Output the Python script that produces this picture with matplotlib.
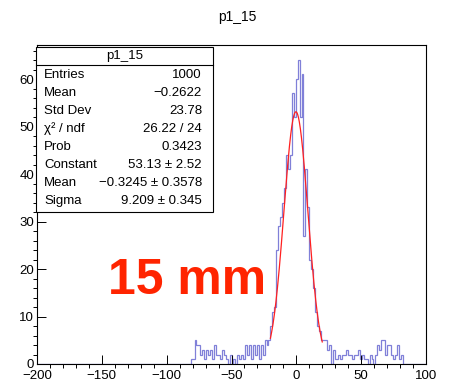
import numpy as np
import matplotlib
matplotlib.use("Agg")
import matplotlib.pyplot as plt
from matplotlib.patches import Rectangle
from matplotlib.lines import Line2D

plt.rcParams['font.family'] = ['Liberation Sans', 'DejaVu Sans']

# ---- data -------------------------------------------------------------
bin_width = 1.5
x_low, x_high = -200.0, 100.0
# counts from the first non-empty bin (left edge -81.5) onward
left_bg = [1, 1, 5, 4, 4, 2, 3, 1, 3, 2, 3, 1, 4, 2, 2, 1, 3, 2, 1, 0,
           2, 0, 1, 0, 2, 1, 2, 1, 4, 2, 4, 1, 4, 2, 4, 1, 4, 2, 5]
peak = [4, 5, 8, 11, 12, 24, 29, 31, 34, 37, 44, 41, 44, 57, 52, 60, 64,
        52, 61, 27, 41, 33, 22, 20, 16, 11, 8, 7, 5]
right_bg = [5, 5, 3, 4, 0, 3, 1, 1, 2, 1, 2, 2, 3, 2, 2, 1, 2, 2, 3, 1,
            2, 1, 1, 0, 2, 1, 0, 2, 4, 3, 5, 5, 2, 4, 4, 2, 1, 2, 4, 1, 2]
first_edge = -81.5

fit_const, fit_mean, fit_sigma = 53.13, -0.3245, 9.209
fit_range = (-20.0, 20.0)

title = "p1_15"
stat_labels = ["Entries", "Mean", "Std Dev", "\u03c7\u00b2 / ndf", "Prob",
               "Constant", "Mean", "Sigma"]
stat_values = ["1000", "\u22120.2622", "23.78", "26.22 / 24", "0.3423",
               "53.13 \u00b1 2.52", "\u22120.3245 \u00b1 0.3578",
               "9.209 \u00b1 0.345"]
x_ticks = [-200, -150, -100, -50, 0, 50, 100]
y_ticks = [0, 10, 20, 30, 40, 50, 60]

# ---- build histogram ---------------------------------------------------
nbins = int(round((x_high - x_low) / bin_width))
edges = x_low + bin_width * np.arange(nbins + 1)
counts = np.zeros(nbins)
start = int(round((first_edge - x_low) / bin_width))
data = left_bg + peak + right_bg
counts[start:start + len(data)] = data

# ---- figure ------------------------------------------------------------
fig = plt.figure(figsize=(4.5, 3.81), dpi=100)
ax = fig.add_axes([37/450, 1 - 364/381, 389/450, (364 - 45)/381])

ax.stairs(counts, edges, color='#8080d8', linewidth=0.9)
xf = np.linspace(fit_range[0], fit_range[1], 200)
ax.plot(xf, fit_const * np.exp(-0.5 * ((xf - fit_mean) / fit_sigma) ** 2),
        color='#ff2020', linewidth=0.9)

ax.set_xlim(x_low, x_high)
ax.set_ylim(0, counts.max() * 1.05)
ax.set_xticks(x_ticks)
ax.set_yticks(y_ticks)
ax.set_xticks(np.arange(-200, 101, 10), minor=True)
ax.set_yticks(np.arange(0, 67, 2), minor=True)
ax.tick_params(direction='in', labelsize=9.5, color='black')
ax.tick_params(which='major', length=6.5, width=0.7)
ax.tick_params(which='minor', length=3.2, width=0.7)
ax.tick_params(axis='x', pad=4.5)
ax.tick_params(axis='y', pad=2)
for s in ax.spines.values():
    s.set_linewidth(0.8)

fig.text(237/450, 1 - 17/381, title, ha='center', va='center', fontsize=10)

# stats box
bx0, bx1 = 36/450, 212.5/450
by_top, by_bot = 1 - 47/381, 1 - 212/381
fig.patches.append(Rectangle((bx0, by_bot), bx1 - bx0, by_top - by_bot,
                             transform=fig.transFigure, facecolor='white',
                             edgecolor='black', linewidth=0.8, zorder=5))
fig.lines.append(Line2D([bx0, bx1], [1 - 65/381] * 2, transform=fig.transFigure,
                        color='black', linewidth=0.8, zorder=6))
fig.text((bx0 + bx1) / 2, 1 - 56/381, title, ha='center', va='center',
         fontsize=9.5, zorder=7)
for i, (lab, val) in enumerate(zip(stat_labels, stat_values)):
    yy = 1 - (75 + 18 * i) / 381
    fig.text(44/450, yy, lab, ha='left', va='center', fontsize=9.5, zorder=7)
    fig.text(202/450, yy, val, ha='right', va='center', fontsize=9.5, zorder=7)

fig.text(108/450, 1 - 294/381, "15 mm", color='#ff2400', fontsize=36,
         fontweight='bold', ha='left', va='baseline')

fig.savefig("out.png", dpi=100)
